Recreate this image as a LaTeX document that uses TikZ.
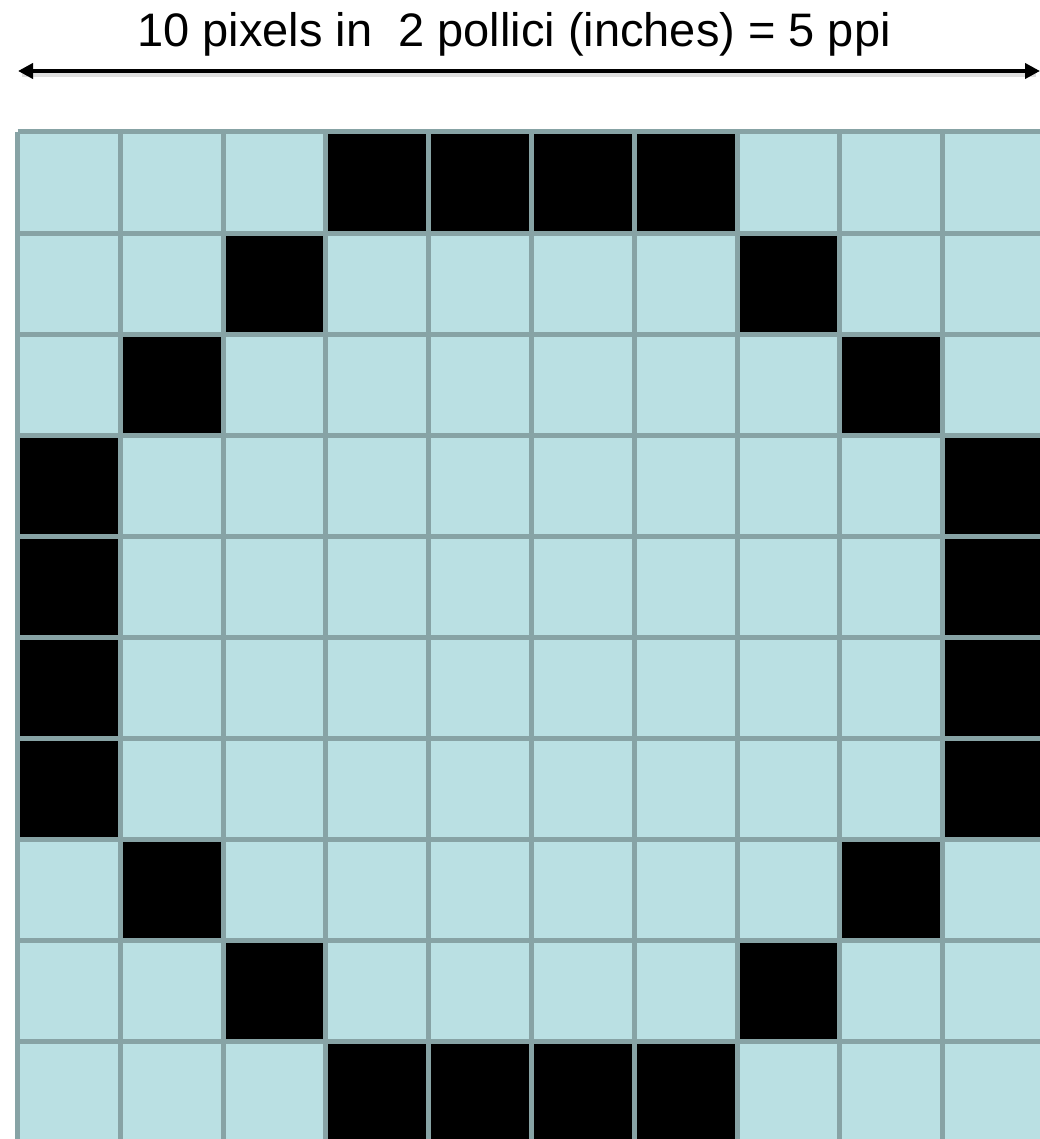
\documentclass[tikz,border=0pt]{standalone}
\usepackage{fontspec}
\setmainfont{Liberation Sans}
\usetikzlibrary{arrows.meta}
\definecolor{cellblue}{HTML}{BAE0E3}
\definecolor{gridgrey}{HTML}{87A3A5}
\tikzset{
  gridline/.style={draw=gridgrey, line width=5pt},
  dimarrow/.style={line width=4.5pt, {Triangle[length=15pt,width=15pt]}-{Triangle[length=15pt,width=15pt]}},
  shadowline/.style={line width=4pt, black!25, opacity=0.5}
}
\begin{document}
\begin{tikzpicture}[x=1pt,y=-1pt]
\useasboundingbox (0,0) rectangle (1040,1139);
\clip (0,0) rectangle (1040,1139);
\def\xo{17.5}\def\yo{132}\def\px{102.8}\def\py{101.1}
% cells background
\fill[cellblue] (\xo,\yo) rectangle (\xo+10*\px,\yo+10*\py);
% black pixels
\foreach \r/\c in {0/3,0/4,0/5,0/6,1/2,1/7,2/1,2/8,3/0,3/9,4/0,4/9,5/0,5/9,6/0,6/9,7/1,7/8,8/2,8/7,9/3,9/4,9/5,9/6}
  \fill[black] (\xo+\c*\px,\yo+\r*\py) rectangle (\xo+\c*\px+\px,\yo+\r*\py+\py);
% grid lines
\foreach \k in {0,...,10}{
  \draw[gridline] (\xo+\k*\px,\yo) -- (\xo+\k*\px,\yo+10*\py);
  \draw[gridline] (\xo,\yo+\k*\py) -- (\xo+10*\px,\yo+\k*\py);
}
% dimension arrow
\coordinate (aL) at (18,71);
\coordinate (aR) at (1040,71);
\draw[shadowline] (22,75) -- (1036,75);
\draw[dimarrow] (aL) -- (aR);
\node[font=\fontsize{47}{56}\selectfont, inner sep=0pt, anchor=base] (title) at (514,47) {10 pixels in\ \ 2 pollici (inches) = 5 ppi};
\end{tikzpicture}
\end{document}
